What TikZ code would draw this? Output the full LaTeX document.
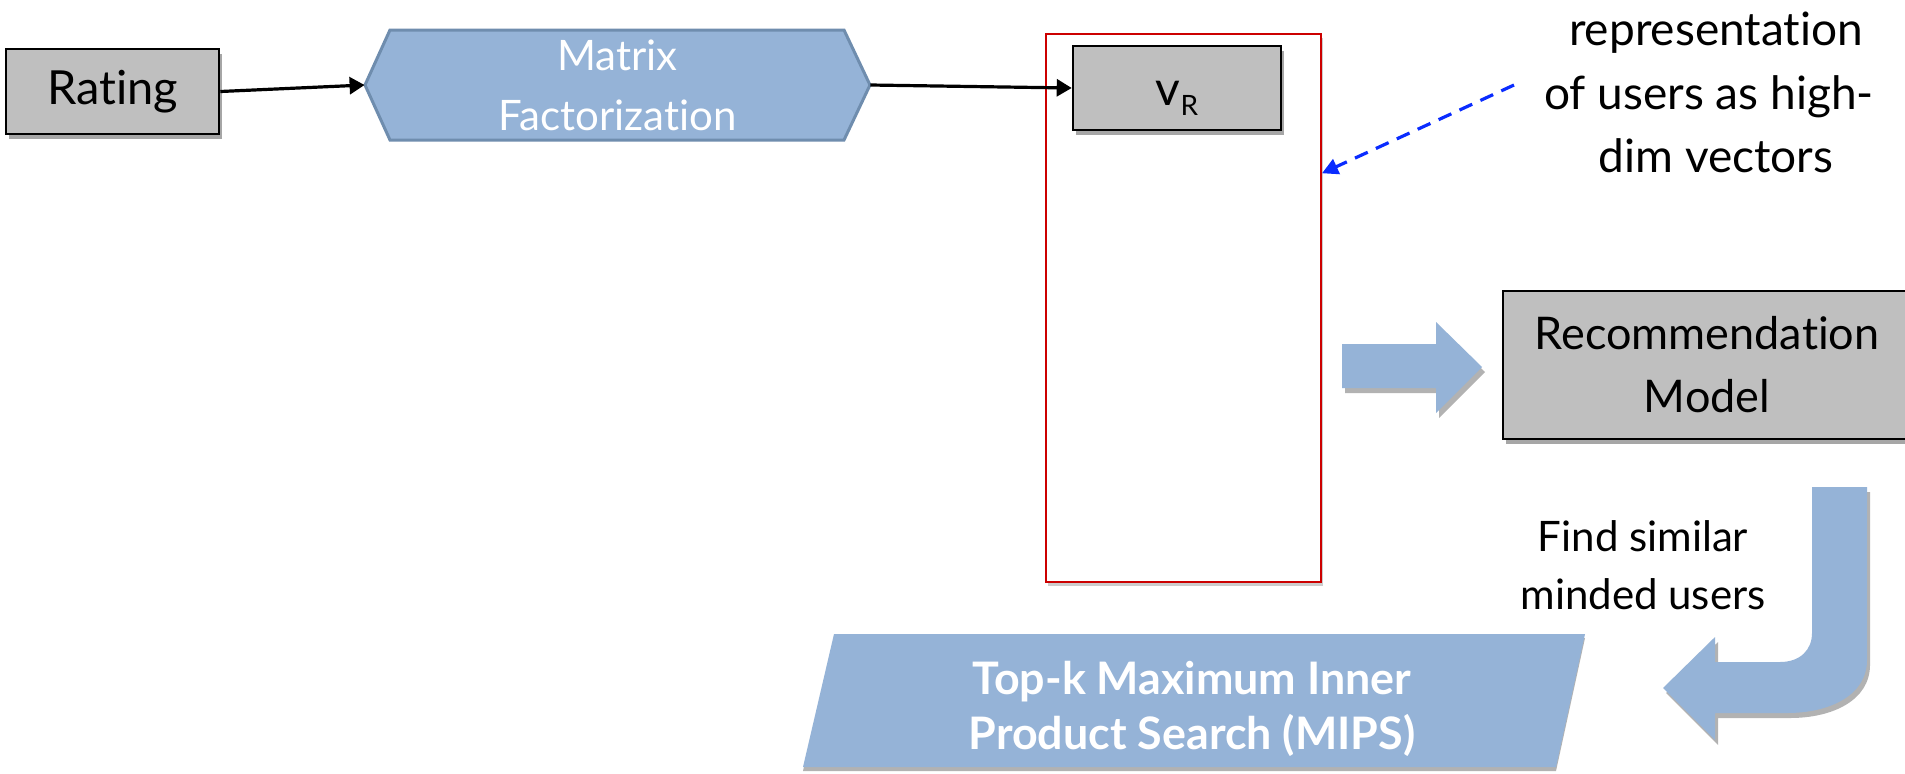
\documentclass[tikz,border=0pt]{standalone}
\usepackage{fontspec}
\setmainfont{Lato}[Ligatures=NoCommon]
\usetikzlibrary{shadows,arrows.meta,calc}
\definecolor{lblue}{HTML}{95B3D7}
\definecolor{hexline}{HTML}{6F8DAE}
\definecolor{boxgray}{HTML}{BFBFBF}
\definecolor{redline}{HTML}{CC0000}
\definecolor{dashblue}{HTML}{0A2CFF}
\begin{document}
\begin{tikzpicture}[x=0.5pt,y=-0.5pt,
  graybox/.style={draw=black, line width=1.3pt, fill=boxgray, inner sep=0pt,
     drop shadow={shadow xshift=1.5pt, shadow yshift=-2.5pt, opacity=0.35, fill=black}},
  conn/.style={line width=1.6pt, -{Triangle[length=7.5pt,width=8.5pt]}},
  shapeshadow/.style={drop shadow={shadow xshift=1.5pt, shadow yshift=-2.5pt, opacity=0.3, fill=black}},
  bodytext/.style={font=\fontsize{23}{32}\selectfont, inner sep=0pt, anchor=base},
  findtext/.style={font=\fontsize{21}{29}\selectfont, inner sep=0pt, anchor=base},
]
\useasboundingbox (0,0) rectangle (1905,773);
\clip (0,0) rectangle (1905,773);
\fill[white] (0,0) rectangle (1905,773);

% red container
\node[draw=redline, line width=1pt, fill=white, minimum width=137.5pt, minimum height=274pt, inner sep=0pt,
  drop shadow={shadow xshift=1pt, shadow yshift=-2pt, opacity=0.2, fill=black}] (vec) at (1183.5,308) {};

% Rating
\node[graybox, minimum width=106.5pt, minimum height=42.5pt, font=\fontsize{23.5}{28}\selectfont] (rating) at (112.5,91.5) {Rating};

% Matrix Factorization hexagon
\filldraw[fill=lblue, draw=hexline, line width=1.5pt] (365,85) -- (390,30) -- (844,30) -- (870,85) -- (844,140) -- (390,140) -- cycle;
\node[minimum width=252.5pt, minimum height=55pt, inner sep=0pt, align=center, text=white, font=\fontsize{21}{30}\selectfont] (mf) at (617.5,85) {Matrix\\Factorization};

% v_R
\node[graybox, minimum width=104pt, minimum height=42pt, text height=17pt, text depth=0pt] (vr) at (1177,88) {\fontsize{24}{28}\selectfont v\raisebox{-5pt}{\fontsize{14}{14}\selectfont R}};

% connectors
\draw[conn] (rating.east) -- (mf.west);
\draw[conn] (mf.east) -- (vr.west);

% annotation
\node[bodytext] (t1) at (1716,45) {representation};
\node[bodytext] (t2) at (1709,109) {of users as high-};
\node[bodytext] (t3) at (1716,172) {dim vectors};
\coordinate (dstart) at (1514,85);
\draw[dashblue, line width=1.6pt, dash pattern=on 7pt off 4.5pt, -{Triangle[length=8pt,width=8pt]}] (dstart) -- ($(vec.north east)!0.255!(vec.south east)$);

% block arrow right
\fill[lblue, shapeshadow] (1342,344) -- (1436,344) -- (1436,322) -- (1482,367) -- (1436,413) -- (1436,388) -- (1342,388) -- cycle;

% Recommendation model
\node[graybox, minimum width=204pt, minimum height=74pt, align=center, font=\fontsize{22.5}{31.5}\selectfont] (rec) at (1707,365) {Recommendation\\Model};

% U-turn arrow
\fill[lblue, shapeshadow] (1812,487) -- (1867,487) -- (1867,660) .. controls (1867,695) and (1830,713) .. (1787,713) -- (1715,713) -- (1715,740) -- (1663,688) -- (1715,637) -- (1715,662) -- (1780,662) .. controls (1800,662) and (1812,650) .. (1812,633) -- cycle;

\node[findtext] (f1) at (1643,551) {Find similar};
\node[findtext] (f2) at (1643,609) {minded users};

% MIPS
\fill[lblue, drop shadow={shadow xshift=0pt, shadow yshift=-2pt, opacity=0.3, fill=black}] (834,634) -- (1585,634) -- (1556,767) -- (803,767) -- cycle;
\node[text=white, font=\bfseries\fontsize{22.4}{27.5}\selectfont, align=center, inner sep=0pt] (mips) at (1192,709) {Top-k Maximum Inner\\Product Search (MIPS)};
\end{tikzpicture}
\end{document}
